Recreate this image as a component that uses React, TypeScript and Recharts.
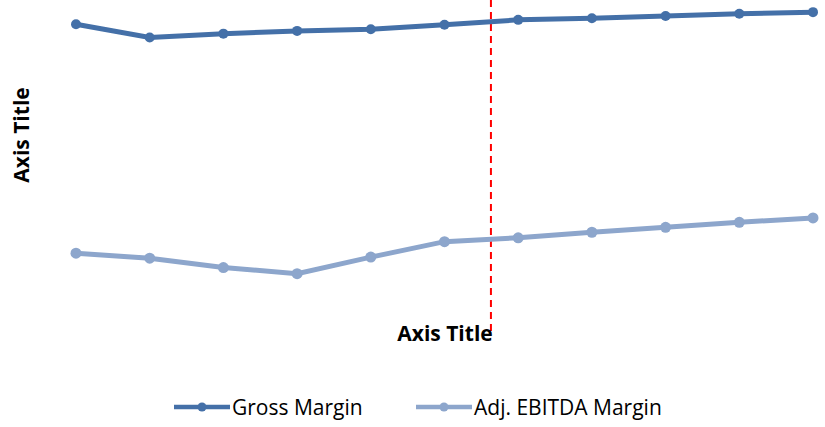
import React from 'react';
import { LineChart, Line, XAxis, YAxis, ReferenceLine } from 'recharts';

const periods = [0, 1, 2, 3, 4, 5, 6, 7, 8, 9, 10];
const grossMargin = [55.6, 53.2, 53.9, 54.4, 54.7, 55.5, 56.4, 56.7, 57.1, 57.5, 57.8];
const ebitdaMargin = [14.1, 13.2, 11.5, 10.4, 13.4, 16.2, 16.9, 17.9, 18.8, 19.7, 20.5];
const dividerAt = 5.63;
const axisTitle = 'Axis Title';
const seriesNames = ['Gross Margin', 'Adj. EBITDA Margin'];

const GROSS = '#4470a8';
const EBITDA = '#8da6cc';
const FONT = '"Open Sans", sans-serif';

const data = periods.map((p, i) => ({ p, gross: grossMargin[i], ebitda: ebitdaMargin[i] }));

// legend drawn by hand so the swatch matches the line-with-marker look
const LegendRow = () => {
  const items = [
    { label: seriesNames[0], color: GROSS, left: 174 },
    { label: seriesNames[1], color: EBITDA, left: 416 },
  ];
  return (
    <>
      {items.map((it) => (
        <div
          key={it.label}
          style={{
            position: 'absolute', left: it.left, top: 394, display: 'flex', alignItems: 'center',
            fontFamily: FONT, fontSize: 21, lineHeight: '26px', whiteSpace: 'nowrap',
          }}
        >
          <svg width={56} height={12} style={{ marginRight: 2 }}>
            <line x1={0} y1={6} x2={56} y2={6} stroke={it.color} strokeWidth={4.5} />
            <circle cx={28} cy={6} r={4.5} fill={it.color} />
          </svg>
          <span style={{ color: '#000' }}>{it.label}</span>
        </div>
      ))}
    </>
  );
};

export default function App() {
  return (
    <div style={{ position: 'absolute', left: 0, top: 0, width: 825, height: 427, background: '#fff' }}>
      <LineChart width={825} height={427} data={data} margin={{ top: 0, right: 12, bottom: 96, left: 76 }}>
        <XAxis dataKey="p" type="number" domain={[0, 10]} hide />
        <YAxis domain={[0, 60]} hide />
        <ReferenceLine x={dividerAt} stroke="#ff0000" strokeWidth={2} strokeDasharray="7 5" />
        <Line
          dataKey="gross"
          stroke={GROSS}
          strokeWidth={5}
          dot={{ r: 5, fill: GROSS, stroke: GROSS, strokeWidth: 0 }}
          isAnimationActive={false}
        />
        <Line
          dataKey="ebitda"
          stroke={EBITDA}
          strokeWidth={5}
          dot={{ r: 5.5, fill: EBITDA, stroke: EBITDA, strokeWidth: 0 }}
          isAnimationActive={false}
        />
      </LineChart>
      <LegendRow />
      <div
        style={{
          position: 'absolute', left: 445, top: 333, transform: 'translate(-50%, -50%)',
          fontFamily: FONT, fontWeight: 700, fontSize: 21, whiteSpace: 'nowrap',
        }}
      >
        {axisTitle}
      </div>
      <div
        style={{
          position: 'absolute', left: 21, top: 135, transform: 'translate(-50%, -50%) rotate(-90deg)',
          fontFamily: FONT, fontWeight: 700, fontSize: 21, whiteSpace: 'nowrap',
        }}
      >
        {axisTitle}
      </div>
    </div>
  );
}
